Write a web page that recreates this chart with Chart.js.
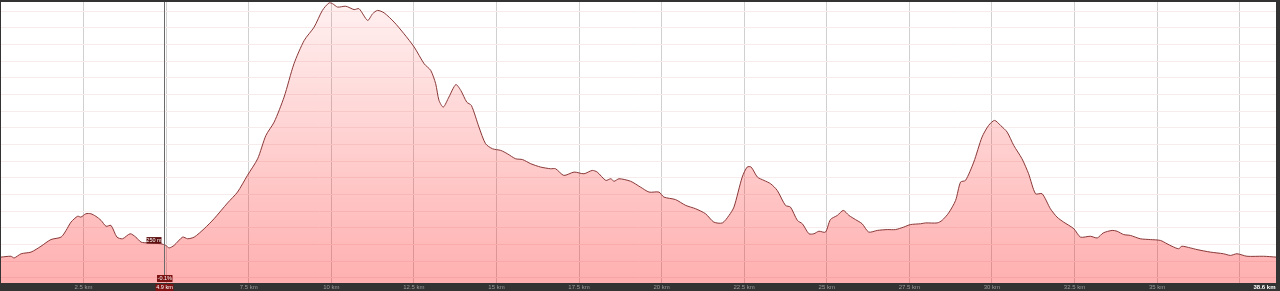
<!DOCTYPE html>
<html>
<head>
<meta charset="utf-8">
<script src="https://cdn.jsdelivr.net/npm/chart.js@4.4.0/dist/chart.umd.min.js"></script>
<style>
  html, body { margin: 0; padding: 0; background: #333; }
  canvas { display: block; }
</style>
</head>
<body>
<canvas id="elevChart" width="1280" height="291"></canvas>
<script>
// elevation profile, distance in km / elevation in m
const distanceKm = [
  0.00, 0.30, 0.40, 0.61, 0.91, 1.21, 1.51, 1.82, 1.97, 2.12, 2.32, 2.42, 2.57, 2.72, 2.87,
  3.03, 3.18, 3.33, 3.51, 3.68, 3.91, 4.08, 4.24, 4.44, 4.84, 4.99, 5.09, 5.24, 5.50, 5.65,
  5.85, 6.15, 6.45, 6.86, 7.16, 7.46, 7.77, 8.02, 8.27, 8.57, 8.87, 9.18, 9.48, 9.73, 9.93,
  10.04, 10.19, 10.44, 10.69, 10.84, 11.10, 11.25, 11.40, 11.60, 11.90, 12.20, 12.51, 12.81, 13.01, 13.16,
  13.26, 13.39, 13.56, 13.77, 13.92, 14.10, 14.24, 14.47, 14.67, 14.88, 15.13, 15.33, 15.58, 15.79, 16.04,
  16.34, 16.64, 16.79, 17.04, 17.35, 17.65, 17.90, 18.05, 18.31, 18.46, 18.56, 18.71, 19.06, 19.36, 19.62,
  19.92, 20.07, 20.42, 20.73, 21.03, 21.33, 21.58, 21.84, 22.04, 22.19, 22.44, 22.59, 22.71, 22.90, 23.10,
  23.30, 23.50, 23.75, 23.90, 24.11, 24.26, 24.46, 24.61, 24.76, 24.96, 25.11, 25.32, 25.50, 25.67, 25.87,
  26.07, 26.27, 26.53, 26.83, 27.08, 27.33, 27.53, 27.84, 27.99, 28.34, 28.49, 28.69, 28.90, 29.05, 29.20,
  29.45, 29.70, 29.90, 30.08, 30.26, 30.46, 30.66, 30.91, 31.11, 31.32, 31.52, 31.77, 31.97, 32.17, 32.48,
  32.68, 32.98, 33.19, 33.37, 33.64, 33.79, 33.99, 34.19, 34.49, 34.80, 35.10, 35.30, 35.45, 35.65, 35.75,
  36.01, 36.21, 36.61, 37.01, 37.22, 37.42, 37.72, 38.22, 38.60
];
const elevationM = [
  235, 236, 234, 239, 241, 248, 256, 259, 267, 277, 284, 283, 287, 287, 284,
  279, 272, 273, 259, 257, 263, 259, 253, 252, 251, 249, 246, 249, 259, 257,
  259, 269, 281, 300, 313, 333, 353, 381, 397, 427, 467, 495, 511, 531, 540,
  539, 535, 536, 532, 533, 519, 527, 531, 528, 517, 503, 487, 467, 459, 443,
  423, 415, 427, 442, 435, 421, 417, 391, 371, 365, 363, 359, 353, 352, 347,
  343, 341, 341, 333, 337, 335, 339, 337, 327, 329, 326, 329, 326, 319, 313,
  313, 307, 304, 297, 293, 287, 277, 276, 285, 295, 331, 343, 343, 331, 327,
  323, 315, 297, 295, 279, 275, 263, 263, 266, 265, 280, 285, 291, 285, 280,
  275, 265, 267, 268, 268, 271, 274, 275, 276, 276, 279, 288, 303, 325, 327,
  349, 379, 393, 399, 393, 385, 369, 353, 335, 311, 311, 293, 283, 277, 269,
  259, 260, 258, 264, 267, 266, 262, 261, 257, 256, 255, 251, 248, 245, 248,
  246, 244, 241, 239, 237, 239, 236, 236, 235
];

const xGridKm = [2.5, 5, 7.5, 10, 12.5, 15, 17.5, 20, 22.5, 25, 27.5, 30, 32.5, 35, 37.5];
const xTickKm = [2.5, 5, 7.5, 10, 12.5, 15, 17.5, 20, 22.5, 25, 27.5, 30, 32.5, 35];
const xTickLabels = ['2.5 km', '5 km', '7.5 km', '10 km', '12.5 km', '15 km', '17.5 km',
  '20 km', '22.5 km', '25 km', '27.5 km', '30 km', '32.5 km', '35 km'];
const totalKm = 38.6;
const totalLabel = '38.6 km';
const elevGridM = [210, 230, 250, 270, 290, 310, 330, 350, 370, 390, 410, 430, 450, 470, 490, 510, 530];

// hover marker shown in the picture
const cursorKm = 4.93;
const cursorElev = 250;
const cursorElevLabel = '250 m';
const cursorGradeLabel = '-0.1%';
const cursorKmLabel = '4.9 km';

const ctx = document.getElementById('elevChart').getContext('2d');

function fillGradient(context) {
    const area = context.chart.chartArea;
    if (!area) return 'rgba(255,0,0,0.2)';
    const g = context.chart.ctx.createLinearGradient(0, area.top, 0, area.bottom);
    g.addColorStop(0, 'rgba(255,0,0,0.06)');
    g.addColorStop(1, 'rgba(255,0,0,0.31)');
    return g;
}

const frame = {
    id: 'frame',
    beforeDraw(chart) {
        const c = chart.ctx, a = chart.chartArea;
        c.save();
        c.fillStyle = '#333';
        c.fillRect(0, 0, chart.width, chart.height);
        c.fillStyle = '#fff';
        c.fillRect(a.left, a.top, a.right - a.left, a.bottom - a.top);
        c.restore();
    },
    afterDraw(chart) {
        const c = chart.ctx, a = chart.chartArea;
        const xs = chart.scales.x, ys = chart.scales.y;
        const midY = a.bottom + 4.5;
        c.save();
        c.font = '6px "Liberation Sans", Arial, sans-serif';
        c.textBaseline = 'middle';
        c.textAlign = 'center';
        c.fillStyle = '#9c9c9c';
        xTickKm.forEach((v, i) => {
            c.fillText(xTickLabels[i], xs.getPixelForValue(v), midY);
        });
        c.textAlign = 'right';
        c.fillStyle = '#fff';
        c.font = 'bold 6px "Liberation Sans", Arial, sans-serif';
        c.fillText(totalLabel, xs.getPixelForValue(totalKm) - 0.5, midY);

        // cursor
        const cx = Math.round(xs.getPixelForValue(cursorKm)) + 0.5;
        c.strokeStyle = '#6a6a6a';
        c.lineWidth = 1;
        c.beginPath();
        c.moveTo(cx, a.top);
        c.lineTo(cx, a.bottom - 8);
        c.stroke();

        c.font = '5.5px "Liberation Sans", Arial, sans-serif';
        const box = (text, x0, y0, w, h, col) => {
            c.fillStyle = col;
            c.fillRect(x0, y0, w, h);
            c.fillStyle = '#fff';
            c.textAlign = 'center';
            c.fillText(text, x0 + w / 2, y0 + h / 2 + 0.3);
        };
        const ey = ys.getPixelForValue(cursorElev);
        box(cursorElevLabel, cx - 18, ey - 7.5, 15, 6.5, '#5e1010');
        box(cursorGradeLabel, cx - 7.5, a.bottom - 8, 15.5, 7, '#7d1212');
        box(cursorKmLabel, cx - 9, a.bottom + 1, 18, 7, '#7d1212');
        c.restore();
    }
};

new Chart(ctx, {
    type: 'line',
    data: {
        datasets: [{
            data: distanceKm.map((d, i) => ({ x: d, y: elevationM[i] })),
            borderColor: '#8a3838',
            borderWidth: 1,
            backgroundColor: fillGradient,
            fill: 'start',
            pointRadius: 0,
            tension: 0.25,
        }]
    },
    options: {
        responsive: false,
        animation: false,
        layout: { padding: { left: 1, top: 2, right: 4, bottom: 8 } },
        scales: {
            x: {
                type: 'linear',
                min: 0,
                max: totalKm,
                afterBuildTicks: s => { s.ticks = xGridKm.map(v => ({ value: v })); },
                grid: { color: '#d0d0d0', drawTicks: false },
                border: { display: false },
                ticks: { display: false }
            },
            y: {
                min: 203.9,
                max: 541.1,
                afterBuildTicks: s => { s.ticks = elevGridM.map(v => ({ value: v })); },
                grid: { color: '#f7ecec', drawTicks: false },
                border: { display: false },
                ticks: { display: false }
            }
        },
        plugins: {
            legend: { display: false },
            tooltip: { enabled: false }
        }
    },
    plugins: [frame]
});
</script>
</body>
</html>
